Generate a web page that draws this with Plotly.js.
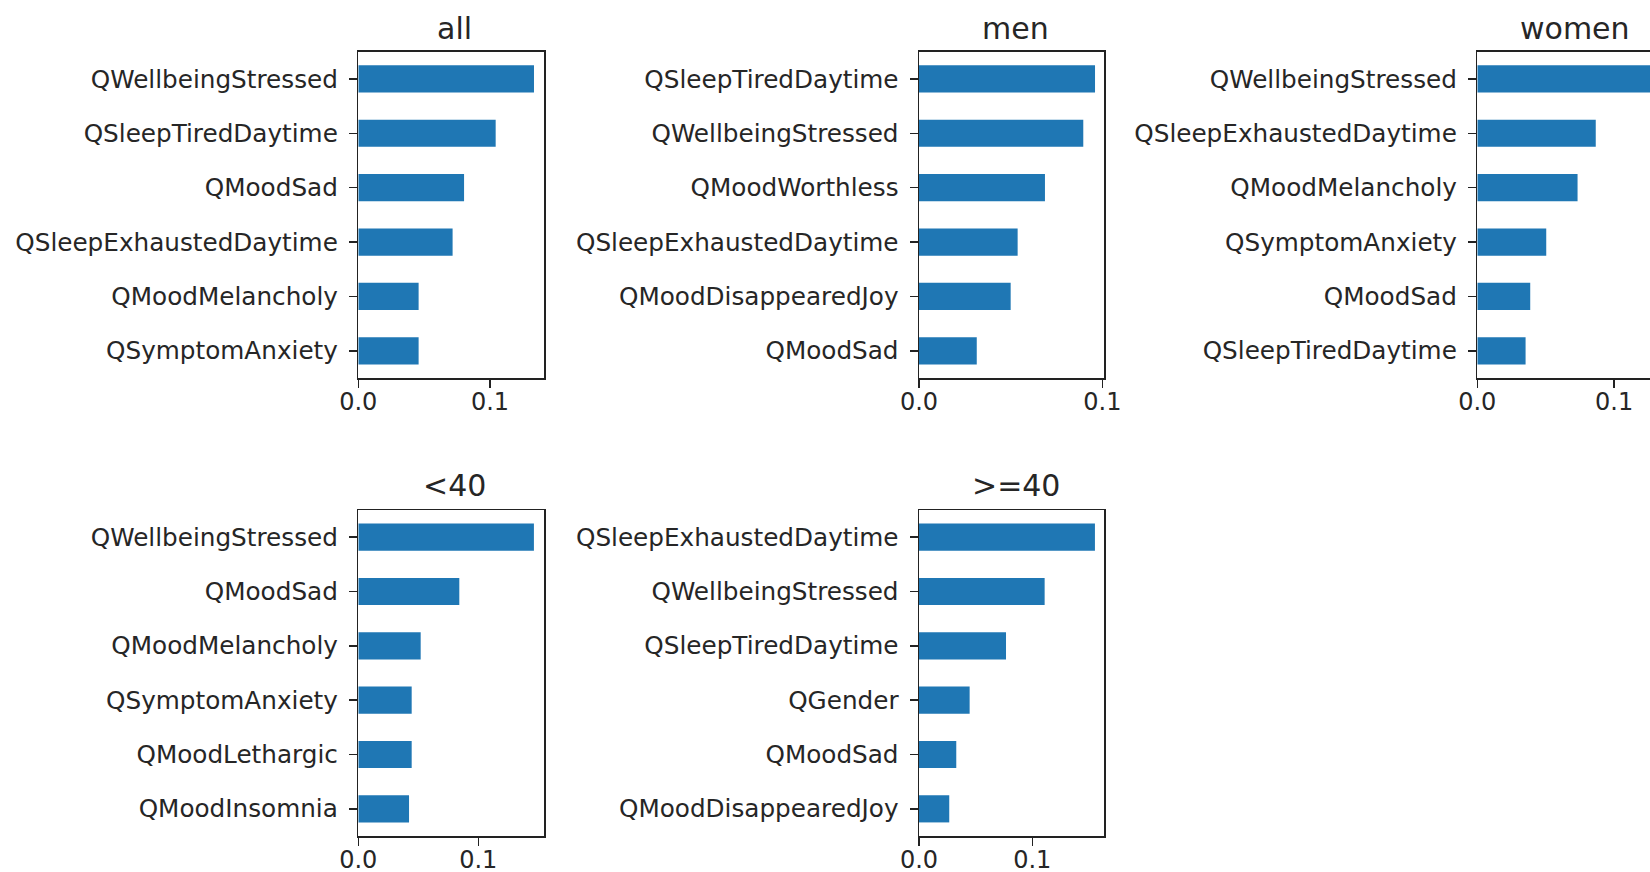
<!DOCTYPE html>
<html>
<head>
<meta charset="utf-8">
<script src="https://cdn.plot.ly/plotly-3.0.1.min.js"></script>
<style>
html, body { margin: 0; padding: 0; background: #fff; overflow: hidden; }
#wrap { width: 1650px; height: 872px; overflow: hidden; }
#plot { width: 1700px; height: 872px; }
</style>
</head>
<body>
<div id="wrap"><div id="plot"></div></div>
<script>
// ---- data (top to bottom in each panel) ----
const allLabels = ["QWellbeingStressed", "QSleepTiredDaytime", "QMoodSad", "QSleepExhaustedDaytime", "QMoodMelancholy", "QSymptomAnxiety"];
const allValues = [0.1334, 0.1043, 0.0803, 0.0716, 0.0458, 0.0458];

const menLabels = ["QSleepTiredDaytime", "QWellbeingStressed", "QMoodWorthless", "QSleepExhaustedDaytime", "QMoodDisappearedJoy", "QMoodSad"];
const menValues = [0.0960, 0.0896, 0.0687, 0.0538, 0.0500, 0.0315];

const womenLabels = ["QWellbeingStressed", "QSleepExhaustedDaytime", "QMoodMelancholy", "QSymptomAnxiety", "QMoodSad", "QSleepTiredDaytime"];
const womenValues = [0.1300, 0.0866, 0.0733, 0.0504, 0.0387, 0.0353];

const under40Labels = ["QWellbeingStressed", "QMoodSad", "QMoodMelancholy", "QSymptomAnxiety", "QMoodLethargic", "QMoodInsomnia"];
const under40Values = [0.1464, 0.0842, 0.0520, 0.0445, 0.0445, 0.0423];

const over40Labels = ["QSleepExhaustedDaytime", "QWellbeingStressed", "QSleepTiredDaytime", "QGender", "QMoodSad", "QMoodDisappearedJoy"];
const over40Values = [0.1553, 0.1109, 0.0768, 0.0447, 0.0329, 0.0267];

const panelTitles = ["all", "men", "women", "<40", ">=40"];

// ---- layout geometry (pixels) ----
const W = 1700, H = 872;
const panels = [
  {labels: allLabels, values: allValues, x0: 358.3, x1: 544, y0: 51.7, y1: 378, xmax: 0.1410, tx: 454.6, ty: 28},
  {labels: menLabels, values: menValues, x0: 919, x1: 1104, y0: 51.7, y1: 378, xmax: 0.1009, tx: 1015.5, ty: 28},
  {labels: womenLabels, values: womenValues, x0: 1477.3, x1: 1664, y0: 51.7, y1: 378, xmax: 0.1365, tx: 1575, ty: 28},
  {labels: under40Labels, values: under40Values, x0: 358.3, x1: 544, y0: 510, y1: 836, xmax: 0.1548, tx: 454.6, ty: 485.5},
  {labels: over40Labels, values: over40Values, x0: 919, x1: 1104, y0: 510, y1: 836, xmax: 0.1633, tx: 1015.5, ty: 485.5}
];

const font = {family: "DejaVu Sans, sans-serif", size: 24.7, color: "#262626"};
const xfont = {family: "DejaVu Sans, sans-serif", size: 24, color: "#262626"};
const traces = [];
const layout = {
  width: W, height: H,
  margin: {l: 0, r: 0, t: 0, b: 0},
  paper_bgcolor: "#fff", plot_bgcolor: "#fff",
  showlegend: false,
  font: font,
  annotations: []
};

panels.forEach((p, i) => {
  const n = i === 0 ? "" : String(i + 1);
  traces.push({
    type: "bar", orientation: "h",
    x: p.values, y: p.labels,
    width: 0.5,
    marker: {color: "#1f77b4", line: {width: 0}},
    xaxis: "x" + n, yaxis: "y" + n,
    hoverinfo: "x+y"
  });
  layout["xaxis" + n] = {
    domain: [p.x0 / W, p.x1 / W],
    anchor: "y" + n,
    range: [0, p.xmax],
    tick0: 0, dtick: 0.1, tickformat: ".1f",
    showgrid: false, zeroline: false,
    showline: true, linecolor: "#222", linewidth: 1.5, mirror: true,
    ticks: "outside", ticklen: 8, tickwidth: 1.5, tickcolor: "#222",
    ticklabelstandoff: -6,
    tickfont: xfont, fixedrange: true
  };
  layout["yaxis" + n] = {
    domain: [1 - p.y1 / H, 1 - p.y0 / H],
    anchor: "x" + n,
    type: "category",
    categoryorder: "array", categoryarray: p.labels,
    range: [p.labels.length - 0.5, -0.5],
    showgrid: false, zeroline: false,
    showline: true, linecolor: "#222", linewidth: 1.5, mirror: true,
    ticks: "outside", ticklen: 8, tickwidth: 1.5, tickcolor: "#222",
    ticklabelstandoff: 6,
    tickfont: font, fixedrange: true
  };
  layout.annotations.push({
    text: panelTitles[i], xref: "paper", yref: "paper",
    x: p.tx / W, y: 1 - p.ty / H, xanchor: "center", yanchor: "middle",
    showarrow: false, font: {family: "DejaVu Sans, sans-serif", size: 30, color: "#262626"}
  });
});

Plotly.newPlot("plot", traces, layout, {displayModeBar: false, staticPlot: true});
</script>
</body>
</html>
